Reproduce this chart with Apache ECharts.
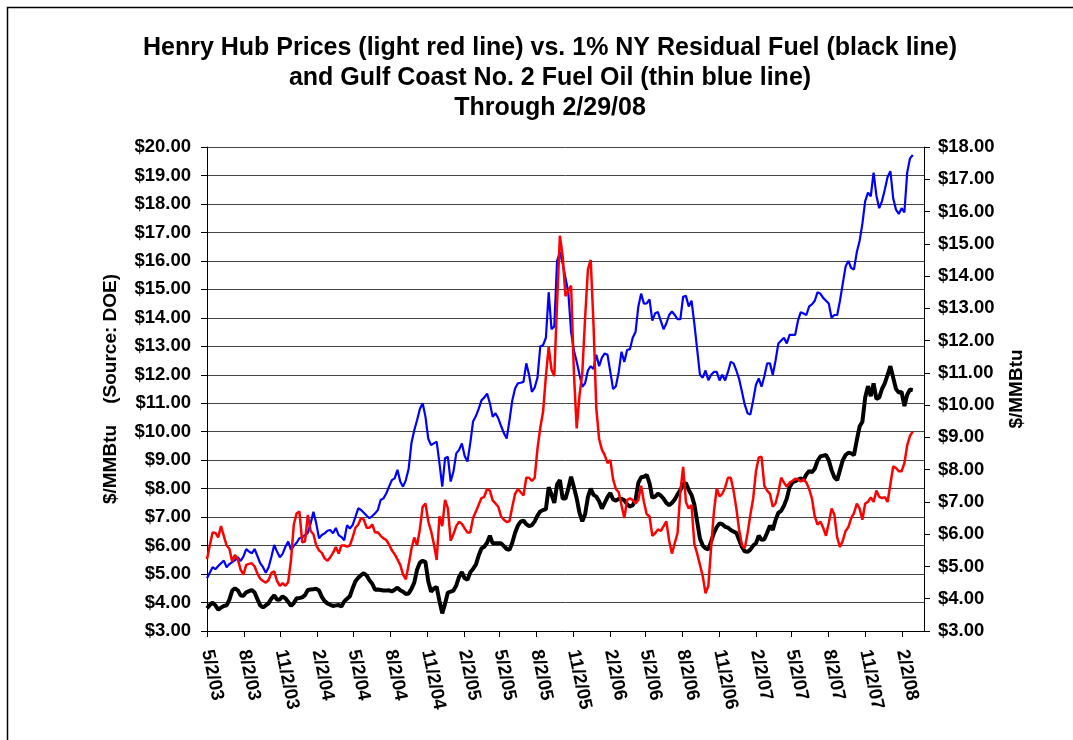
<!DOCTYPE html>
<html>
<head>
<meta charset="utf-8">
<script src="https://cdn.jsdelivr.net/npm/echarts@6/dist/echarts.min.js"></script>
<style>
  html, body { margin: 0; padding: 0; background: #fff; }
  #chart { width: 1073px; height: 740px; }
</style>
</head>
<body>
<div id="chart"></div>
<script>
// weekly readings (Fridays) from 5/2/03 through 2/29/08
const firstWeek = '5/2/03'
const axisEnd = '3/28/08'
const tickLabels = ['5/2/03', '8/2/03', '11/2/03', '2/2/04', '5/2/04', '8/2/04', '11/2/04', '2/2/05',
    '5/2/05', '8/2/05', '11/2/05', '2/2/06', '5/2/06', '8/2/06', '11/2/06', '2/2/07', '5/2/07',
    '8/2/07', '11/2/07', '2/2/08']

// Gulf Coast No. 2 fuel oil, $/MMBtu (left axis)
const gulfCoastNo2 = [
    4.85, 5.05, 5.24, 5.17, 5.28, 5.38, 5.47, 5.24, 5.35, 5.42,
    5.49, 5.59, 5.46, 5.61, 5.88, 5.79, 5.73, 5.88, 5.63, 5.38,
    5.24, 5.05, 5.24, 5.61, 6.02, 5.79, 5.59, 5.71, 5.96, 6.14,
    5.85, 5.99, 6.10, 6.26, 6.29, 6.37, 6.45, 6.78, 7.19, 6.78,
    6.26, 6.37, 6.43, 6.52, 6.55, 6.43, 6.62, 6.37, 6.30, 6.19,
    6.72, 6.60, 6.72, 7.01, 7.31, 7.25, 7.15, 7.05, 6.96, 7.04,
    7.13, 7.25, 7.60, 7.66, 7.83, 8.07, 8.30, 8.36, 8.66, 8.25,
    8.07, 8.30, 8.70, 9.60, 10.05, 10.40, 10.80, 11.00, 10.53, 9.75,
    9.53, 9.59, 9.65, 8.89, 8.07, 9.07, 9.12, 8.25, 8.60, 9.24,
    9.36, 9.59, 9.15, 8.95, 9.60, 10.36, 10.55, 10.80, 11.10, 11.20,
    11.34, 11.00, 10.52, 10.65, 10.47, 10.20, 9.95, 9.76, 10.40, 11.10,
    11.52, 11.70, 11.72, 11.75, 12.40, 11.99, 11.40, 11.55, 11.90, 13.00,
    13.04, 13.30, 14.90, 13.60, 13.70, 16.00, 16.30, 15.90, 15.40, 14.90,
    13.50, 12.85, 12.46, 12.00, 11.58, 11.70, 12.15, 12.30, 12.20, 12.70,
    12.30, 12.60, 12.75, 12.70, 12.10, 11.50, 11.60, 12.10, 12.81, 12.45,
    12.87, 12.90, 13.30, 13.50, 14.39, 14.85, 14.50, 14.51, 14.65, 13.90,
    14.16, 14.20, 13.90, 13.60, 13.80, 14.10, 14.22, 14.10, 13.95, 13.95,
    14.74, 14.77, 14.40, 14.60, 13.80, 12.90, 12.00, 11.90, 12.15, 11.81,
    12.00, 12.10, 12.10, 11.80, 12.00, 11.80, 12.10, 12.46, 12.40, 12.15,
    11.85, 11.40, 10.95, 10.65, 10.60, 11.10, 11.65, 11.87, 11.58, 11.95,
    12.40, 12.40, 11.99, 12.50, 13.10, 13.20, 13.30, 13.10, 13.40, 13.40,
    13.40, 13.90, 14.20, 14.15, 14.10, 14.40, 14.47, 14.60, 14.90, 14.85,
    14.70, 14.60, 14.50, 14.00, 14.10, 14.10, 14.60, 15.20, 15.80, 16.00,
    15.75, 15.70, 16.30, 16.70, 17.30, 18.10, 18.40, 18.27, 19.10, 18.30,
    17.85, 18.10, 18.50, 18.95, 19.15, 18.20, 17.80, 17.65, 17.85, 17.70,
    19.10, 19.60, 19.72,
]

// 1% NY residual fuel, $/MMBtu (left axis)
const nyResidual = [
    3.80, 3.91, 4.00, 3.90, 3.75, 3.82, 3.88, 3.90, 4.10, 4.42,
    4.50, 4.43, 4.25, 4.24, 4.36, 4.40, 4.44, 4.35, 4.12, 3.90,
    3.83, 3.90, 3.98, 4.14, 4.25, 4.10, 4.11, 4.22, 4.15, 4.02,
    3.88, 3.98, 4.15, 4.16, 4.18, 4.26, 4.44, 4.46, 4.47, 4.48,
    4.42, 4.20, 4.05, 3.97, 3.92, 3.88, 3.90, 3.91, 3.86, 4.04,
    4.13, 4.22, 4.50, 4.75, 4.87, 4.96, 5.03, 4.95, 4.78, 4.66,
    4.45, 4.46, 4.44, 4.42, 4.42, 4.43, 4.39, 4.45, 4.52, 4.43,
    4.38, 4.30, 4.32, 4.48, 4.70, 5.15, 5.40, 5.47, 5.42, 4.75,
    4.38, 4.49, 4.55, 4.05, 3.62, 3.96, 4.35, 4.38, 4.42, 4.60,
    4.90, 5.07, 4.85, 4.80, 5.06, 5.18, 5.33, 5.65, 5.90, 5.96,
    6.10, 6.35, 6.08, 6.08, 6.08, 6.08, 5.98, 5.88, 5.85, 6.10,
    6.45, 6.70, 6.84, 6.88, 6.75, 6.68, 6.72, 6.85, 7.05, 7.20,
    7.25, 7.28, 8.05, 7.80, 7.50, 8.15, 8.30, 7.65, 7.65, 8.00,
    8.42, 8.05, 7.66, 7.15, 6.85, 7.10, 7.70, 8.00, 7.78, 7.72,
    7.56, 7.30, 7.50, 7.70, 7.85, 7.62, 7.58, 7.64, 7.64, 7.60,
    7.45, 7.37, 7.42, 7.60, 8.20, 8.40, 8.42, 8.48, 8.19, 7.68,
    7.72, 7.82, 7.76, 7.65, 7.50, 7.42, 7.50, 7.62, 7.80, 7.95,
    8.15, 8.20, 7.95, 7.78, 7.45, 6.85, 6.25, 6.00, 5.90, 5.87,
    6.15, 6.45, 6.65, 6.78, 6.75, 6.66, 6.63, 6.55, 6.49, 6.45,
    6.20, 5.95, 5.80, 5.78, 5.86, 6.00, 6.08, 6.35, 6.20, 6.22,
    6.45, 6.70, 6.55, 6.90, 7.15, 7.22, 7.40, 7.65, 8.05, 8.22,
    8.26, 8.32, 8.36, 8.30, 8.50, 8.62, 8.58, 8.70, 8.98, 9.13,
    9.16, 9.18, 9.00, 8.65, 8.40, 8.30, 8.65, 9.00, 9.18, 9.26,
    9.24, 9.18, 9.70, 10.18, 10.35, 11.20, 11.60, 11.25, 11.70, 11.15,
    11.20, 11.50, 11.70, 12.00, 12.30, 11.90, 11.50, 11.38, 11.40, 10.90,
    11.30, 11.48, 11.46,
]

// Henry Hub, $/MMBtu (right axis)
const henryHub = [
    5.22, 5.65, 6.05, 6.04, 5.90, 6.25, 5.95, 5.65, 5.55, 5.15,
    5.36, 5.22, 4.90, 4.75, 5.05, 5.08, 5.10, 5.00, 4.78, 4.62,
    4.55, 4.50, 4.58, 4.80, 4.85, 4.55, 4.40, 4.48, 4.40, 4.52,
    5.20, 6.30, 6.65, 6.70, 5.75, 5.77, 6.60, 6.10, 6.00, 5.65,
    5.50, 5.42, 5.25, 5.18, 5.28, 5.42, 5.60, 5.40, 5.65, 5.65,
    5.62, 5.65, 5.90, 6.20, 6.30, 6.50, 6.45, 6.20, 6.20, 6.30,
    6.05, 6.06, 5.95, 5.87, 5.82, 5.68, 5.50, 5.38, 5.22, 5.05,
    4.75, 4.60, 5.05, 5.55, 5.90, 5.65, 6.15, 6.85, 6.95, 6.40,
    6.10, 5.70, 5.20, 6.55, 6.25, 7.06, 6.80, 5.80, 6.00, 6.25,
    6.39, 6.32, 6.18, 6.05, 6.05, 6.50, 6.70, 6.91, 7.12, 7.16,
    7.40, 7.35, 7.05, 6.95, 6.85, 6.55, 6.45, 6.38, 6.40, 6.85,
    7.25, 7.40, 7.30, 7.20, 7.75, 7.75, 7.65, 7.75, 8.65, 9.30,
    9.80, 10.90, 11.80, 11.10, 10.90, 13.20, 15.25, 14.60, 13.38, 13.55,
    13.70, 11.00, 9.28, 10.30, 11.00, 12.70, 14.20, 14.50, 12.50, 9.90,
    8.95, 8.62, 8.45, 8.20, 8.30, 7.70, 7.40, 7.30, 6.90, 6.50,
    7.06, 7.11, 7.06, 6.95, 7.06, 7.50, 7.00, 6.62, 6.55, 5.95,
    6.03, 6.15, 6.10, 6.24, 6.40, 5.80, 5.40, 5.72, 6.03, 7.30,
    8.09, 7.00, 6.80, 6.90, 5.70, 5.40, 5.05, 4.70, 4.17, 4.40,
    5.60, 6.70, 7.42, 7.17, 7.25, 7.45, 7.75, 7.75, 7.35, 6.80,
    6.13, 5.67, 5.56, 6.03, 6.60, 7.10, 7.95, 8.38, 8.40, 7.50,
    7.35, 7.25, 6.85, 6.95, 7.30, 7.75, 7.60, 7.47, 7.60, 7.65,
    7.72, 7.70, 7.63, 7.70, 7.60, 7.40, 7.10, 6.55, 6.30, 6.39,
    6.20, 5.95, 6.35, 6.80, 6.60, 5.90, 5.60, 5.80, 6.10, 6.22,
    6.50, 6.65, 6.95, 6.80, 6.45, 6.95, 7.00, 7.14, 7.00, 7.35,
    7.16, 7.12, 7.15, 7.00, 7.55, 8.10, 8.05, 7.95, 7.95, 8.20,
    8.75, 9.05, 9.18,
]

const FONT = '"Liberation Sans", Arial, sans-serif'

function parseDate(s) {
    const [m, d, y] = s.split('/').map(Number)
    return new Date(2000 + y, m - 1, d)
}

function fmtDate(t) {
    const d = new Date(t)
    return (d.getMonth() + 1) + '/' + d.getDate() + '/' + String(d.getFullYear()).slice(2)
}

const start = parseDate(firstWeek)
function weekly(values) {
    return values.map((v, i) => [
        new Date(start.getFullYear(), start.getMonth(), start.getDate() + 7 * i).getTime(),
        v,
    ])
}

const tickTimes = tickLabels.map((s) => parseDate(s).getTime())

const chart = echarts.init(document.getElementById('chart'))

const boldText = {
    fontFamily: FONT,
    fontWeight: 'bold',
    color: '#000',
}

let option = {
    backgroundColor: '#fff',
    animation: false,
    title: {
        text: 'Henry Hub Prices (light red line) vs. 1% NY Residual Fuel (black line)\n' +
            'and Gulf Coast No. 2 Fuel Oil (thin blue line)\nThrough 2/29/08',
        left: 545,
        top: 28,
        textAlign: 'center',
        textStyle: {
            ...boldText,
            fontSize: 25,
            lineHeight: 30,
        },
    },
    graphic: [
        {
            type: 'rect',
            shape: { x: 7.5, y: 7.5, width: 1100, height: 800 },
            style: { fill: 'none', stroke: '#000', lineWidth: 1.5 },
            silent: true,
        },
    ],
    grid: {
        left: 207,
        right: 149,
        top: 147,
        bottom: 109,
    },
    // dates are plotted on a plain value scale (ms) so the ticks can sit on the quarter dates
    xAxis: {
        type: 'value',
        min: start.getTime(),
        max: parseDate(axisEnd).getTime(),
        axisLine: { onZero: false, lineStyle: { color: '#000', width: 1 } },
        axisTick: {
            show: true,
            length: 6,
            customValues: tickTimes,
            lineStyle: { color: '#000' },
        },
        axisLabel: {
            customValues: tickTimes,
            formatter: (val) => fmtDate(val),
            rotate: -78,
            margin: 19,
            fontSize: 18.5,
            ...boldText,
        },
        splitLine: { show: false },
    },
    yAxis: [
        {
            type: 'value',
            position: 'left',
            min: 3,
            max: 20,
            interval: 1,
            name: '$/MMBtu    (Source: DOE)',
            nameLocation: 'middle',
            nameRotate: 90,
            nameGap: 87,
            nameTextStyle: { ...boldText, fontSize: 19 },
            axisLine: { show: true, lineStyle: { color: '#000' } },
            axisTick: { show: true, length: 6, lineStyle: { color: '#000' } },
            axisLabel: {
                formatter: (v) => '$' + v.toFixed(2),
                margin: 16,
                fontSize: 18.5,
                ...boldText,
            },
            splitLine: { lineStyle: { color: '#444', width: 1 } },
        },
        {
            type: 'value',
            position: 'right',
            min: 3,
            max: 18,
            interval: 1,
            name: '$/MMBtu',
            nameLocation: 'middle',
            nameRotate: 90,
            nameGap: 83,
            nameTextStyle: { ...boldText, fontSize: 19 },
            axisLine: { show: true, lineStyle: { color: '#000' } },
            axisTick: { show: true, length: 6, lineStyle: { color: '#000' } },
            axisLabel: {
                formatter: (v) => '$' + v.toFixed(2),
                margin: 14,
                fontSize: 18.5,
                ...boldText,
            },
            splitLine: { show: false },
        },
    ],
    series: [
        {
            name: '1% NY Residual Fuel',
            type: 'line',
            yAxisIndex: 0,
            data: weekly(nyResidual),
            showSymbol: false,
            lineStyle: { color: '#000', width: 4 },
            itemStyle: { color: '#000' },
        },
        {
            name: 'Gulf Coast No. 2 Fuel Oil',
            type: 'line',
            yAxisIndex: 0,
            data: weekly(gulfCoastNo2),
            showSymbol: false,
            lineStyle: { color: '#0000ff', width: 2.2 },
            itemStyle: { color: '#0000ff' },
        },
        {
            name: 'Henry Hub',
            type: 'line',
            yAxisIndex: 1,
            data: weekly(henryHub),
            showSymbol: false,
            lineStyle: { color: '#ff0000', width: 2.5 },
            itemStyle: { color: '#ff0000' },
        },
    ],
}

chart.setOption(option)
</script>
</body>
</html>
